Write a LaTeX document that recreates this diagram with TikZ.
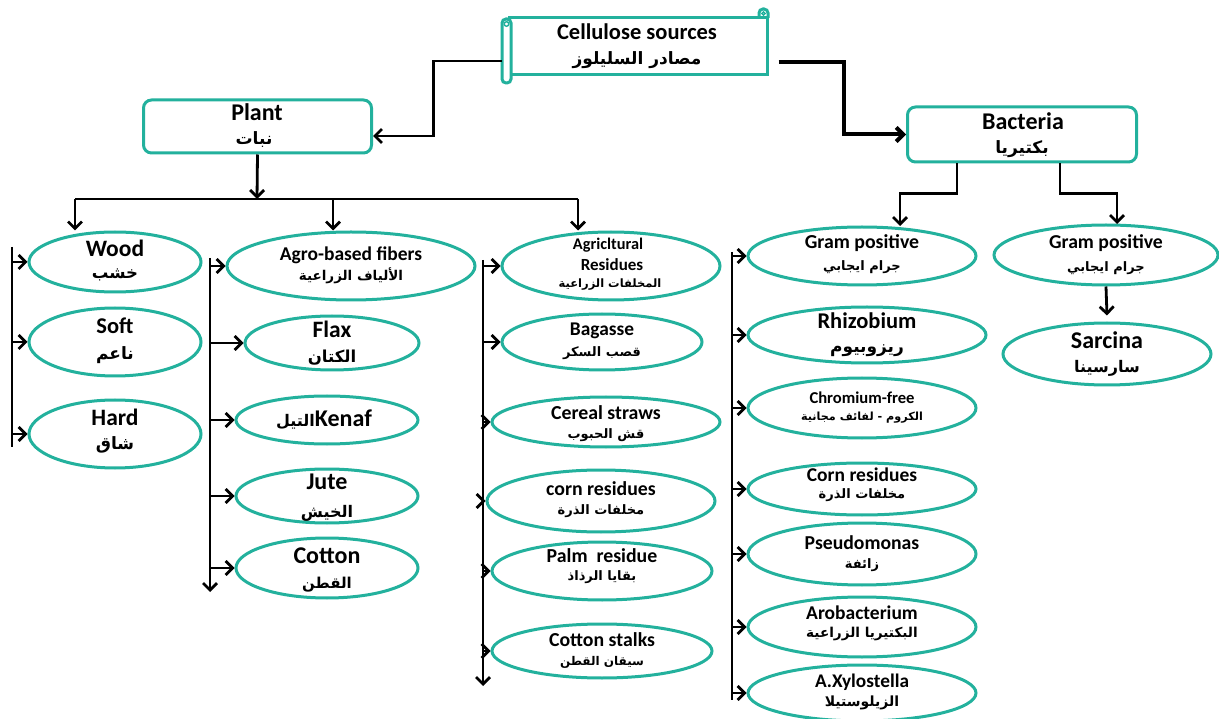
\documentclass[tikz,border=0pt]{standalone}
\usepackage{fontspec}
\setmainfont{Carlito}
\newfontfamily\arabicfont[Script=Arabic]{DejaVu Sans}
\TeXXeTstate=1
\usetikzlibrary{arrows.meta,shapes.geometric}
\definecolor{tealc}{RGB}{35,177,157}
\newcommand\fs[1]{\fontsize{#1}{#1}\selectfont\bfseries}
\newcommand\ar[2]{{\arabicfont\bfseries\fontsize{#1}{#1}\selectfont #2}}
\tikzset{
  ell/.style={ellipse, draw=tealc, line width=3pt, inner sep=0pt},
  box/.style={rectangle, draw=tealc, line width=3pt, rounded corners=8pt, inner sep=0pt},
  txt/.style={inner sep=0pt, text=black, align=center},
  conn/.style={line width=2.8pt, draw=black},
  arr/.style={conn, -{Straight Barb[length=7pt,width=14pt]}}
}
\newcommand\bubble[9]{%
  \node[ell, minimum width=#4, minimum height=#5] (#1) at (#2,#3) {};
  \node[txt] (#1-en) at (#2,{#3+#8}) {#6};
  \node[txt] (#1-ar) at (#2,{#3+#9}) {#7};
}
\begin{document}
\begin{tikzpicture}[x=1pt,y=-1pt]
\path[use as bounding box] (0,0) rectangle (1219,719);

% title scroll
\node[rectangle, draw=tealc, line width=3pt, minimum width=258, minimum height=57, inner sep=0pt] (title) at (638,46.5) {};
\draw[tealc, line width=3pt, rounded corners=4pt, fill=white] (502,19) rectangle (511,83);
\draw[tealc, line width=1.4pt] (506.5,24) circle (2.3pt);
\draw[tealc, line width=3pt, rounded corners=4pt] (759,18) -- (759,9) -- (768,9) -- (768,18);
\draw[tealc, line width=1.4pt] (763.5,13.5) circle (1.6pt);
\node[txt] (title-en) at (637,32) {\fs{22.5}Cellulose sources};
\node[txt] (title-ar) at (637,60) {\ar{17}{\beginR مصادر السليلوز\endR}};

% plant & bacteria
\node[box, minimum width=228, minimum height=53] (plant) at (257.5,126.5) {};
\node[txt] (plant-en) at (257,112) {\fs{24}Plant};
\node[txt] (plant-ar) at (254,140) {\ar{17}{\beginR نبات\endR}};
\node[box, minimum width=229, minimum height=55] (bact) at (1022,134.5) {};
\node[txt] (bact-en) at (1023,121) {\fs{24}Bacteria};
\node[txt] (bact-ar) at (1022,149) {\ar{17}{\beginR بكتيريا\endR}};

% column 1
\bubble{wood}{115}{262}{172}{60}{\fs{23.5}Wood}{\ar{16.5}{\beginR خشب\endR}}{-14}{13}
\bubble{soft}{115}{342}{172}{68}{\fs{22.5}Soft}{\ar{17}{\beginR ناعم\endR}}{-16}{13}
\bubble{hard}{115}{434}{172}{68}{\fs{23.5}Hard}{\ar{17}{\beginR شاق\endR}}{-17}{11}

% column 2
\bubble{agro}{351}{266}{248}{68}{\fs{19.5}Agro-based fibers}{\ar{13.5}{\beginR الألياف الزراعية\endR}}{-11}{10}
\bubble{flax}{332}{343}{174}{54}{\fs{23.5}Flax}{\ar{16.5}{\beginR الكتان\endR}}{-14}{15}
\node[ell, minimum width=182, minimum height=48] (kenaf) at (327,420) {};
\node[txt] (kenaf-t) at (324,420) {\ar{16}{\beginR التيل\endR}\fs{24}Kenaf};
\bubble{jute}{327}{496}{182}{54}{\fs{24}Jute}{\ar{16}{\beginR الخيش\endR}}{-14}{17}
\bubble{cotton}{327}{568}{182}{60}{\fs{24}Cotton}{\ar{15}{\beginR القطن\endR}}{-12}{17}

% column 3
\node[ell, minimum width=218, minimum height=68] (agri) at (611,266) {};
\node[txt] (agri-en1) at (608,245) {\fs{16.3}Agricltural};
\node[txt] (agri-en2) at (612,265) {\fs{17}Residues};
\node[txt] (agri-ar) at (610,285) {\ar{11.5}{\beginR المخلفات الزراعية\endR}};
\bubble{bagasse}{602}{342}{200}{56}{\fs{19.4}Bagasse}{\ar{13}{\beginR قصب السكر\endR}}{-11}{11}
\bubble{cereal}{606}{422}{228}{50}{\fs{19.8}Cereal straws}{\ar{13}{\beginR قش الحبوب\endR}}{-9}{13}
\bubble{cornr}{601}{501}{228}{62}{\fs{19.8}corn residues}{\ar{13}{\beginR مخلفات الذرة\endR}}{-12}{10}
\bubble{palm}{602}{571}{220}{58}{\fs{19.8}Palm\ \ residue}{\ar{13}{\beginR بقايا الرذاذ\endR}}{-15}{6}
\bubble{cstalk}{602}{651}{220}{54}{\fs{19.8}Cotton stalks}{\ar{12}{\beginR سيقان القطن\endR}}{-11}{11}

% column 4
\bubble{gpl}{862}{256}{228}{58}{\fs{19.8}Gram positive}{\ar{13}{\beginR جرام ايجابي\endR}}{-13}{11}
\bubble{rhizo}{867}{335}{238}{56}{\fs{22.5}Rhizobium}{\ar{17}{\beginR ريزوبيوم\endR}}{-14}{16}
\bubble{chrom}{862}{408}{228}{60}{\fs{16.6}Chromium-free}{\ar{11.2}{\beginR الكروم - لفائف مجانية\endR}}{-10}{10}
\bubble{cornb}{862}{489}{228}{52}{\fs{19.5}Corn residues}{\ar{13}{\beginR مخلفات الذرة\endR}}{-14}{6}
\bubble{pseudo}{862}{554}{228}{62}{\fs{19.7}Pseudomonas}{\ar{13}{\beginR زائفة\endR}}{-11}{11}
\bubble{arob}{862}{627}{228}{60}{\fs{19.5}Arobacterium}{\ar{13.6}{\beginR البكتيريا الزراعية\endR}}{-14}{7}
\bubble{axyl}{862}{693}{228}{56}{\fs{19.3}A.Xylostella}{\ar{14}{\beginR الزيلوستيلا\endR}}{-11}{10}

% column 5
\bubble{gpr}{1106}{255}{224}{60}{\fs{19.7}Gram positive}{\ar{13}{\beginR جرام ايجابي\endR}}{-12}{13}
\bubble{sarcina}{1107}{354}{208}{62}{\fs{24}Sarcina}{\ar{16}{\beginR سارسينا\endR}}{-14}{14}

% top connectors
\draw[arr] ([xshift=-6pt,yshift=-14.5pt]title.west) -- ++(-68,0) |- ([yshift=-9.5pt]plant.east);
\draw[arr, line width=4pt] ([xshift=10pt,yshift=-15.5pt]title.east) -- ++(65,0) |- (bact.west);

% plant branches
\coordinate (pj) at (257,199);
\coordinate (bl) at (75,199);
\coordinate (bm) at (333,199);
\coordinate (br) at (578,199);
\draw[arr] (plant.south) -- (pj);
\draw[conn] (bl) -- (br);
\draw[arr] (bl) -- (bl |- wood.north);
\draw[arr] (bm) -- (bm |- agro.north);
\draw[arr] (br) -- (br |- agri.north);

% bacteria branches
\coordinate (gl) at (900,226);
\coordinate (gr) at (1117,224);
\draw[arr] ([xshift=-65pt]bact.south) -- ++(0,30) -| (gl);
\draw[arr] ([xshift=38pt]bact.south) -- ++(0,30) -| (gr);
\draw[arr] (gpr.south) -- ([yshift=6pt]sarcina.north);

% trunks
\coordinate (t1a) at (12,247);  \coordinate (t1b) at (12,447);
\coordinate (t2a) at (210,258); \coordinate (t2b) at (210,592);
\coordinate (t3a) at (483,260); \coordinate (t3b) at (483,686);
\coordinate (t4a) at (732,252); \coordinate (t4b) at (732,700);
\draw[conn] (t1a) -- (t1b);
\draw[arr] (t2a) -- (t2b);
\draw[arr] (t3a) -- (t3b);
\draw[conn] (t4a) -- (t4b);
\foreach \n in {wood,soft,hard} \draw[arr] (t1a |- \n.west) -- (\n.west);
\foreach \n in {agro,flax,kenaf,jute,cotton} \draw[arr] (t2a |- \n.west) -- (\n.west);
\foreach \n in {agri,bagasse,cereal,cornr,palm,cstalk} \draw[arr] (t3a |- \n.west) -- (\n.west);
\foreach \n in {gpl,rhizo,chrom,cornb,pseudo,arob,axyl} \draw[arr] (t4a |- \n.west) -- (\n.west);
\end{tikzpicture}
\end{document}
